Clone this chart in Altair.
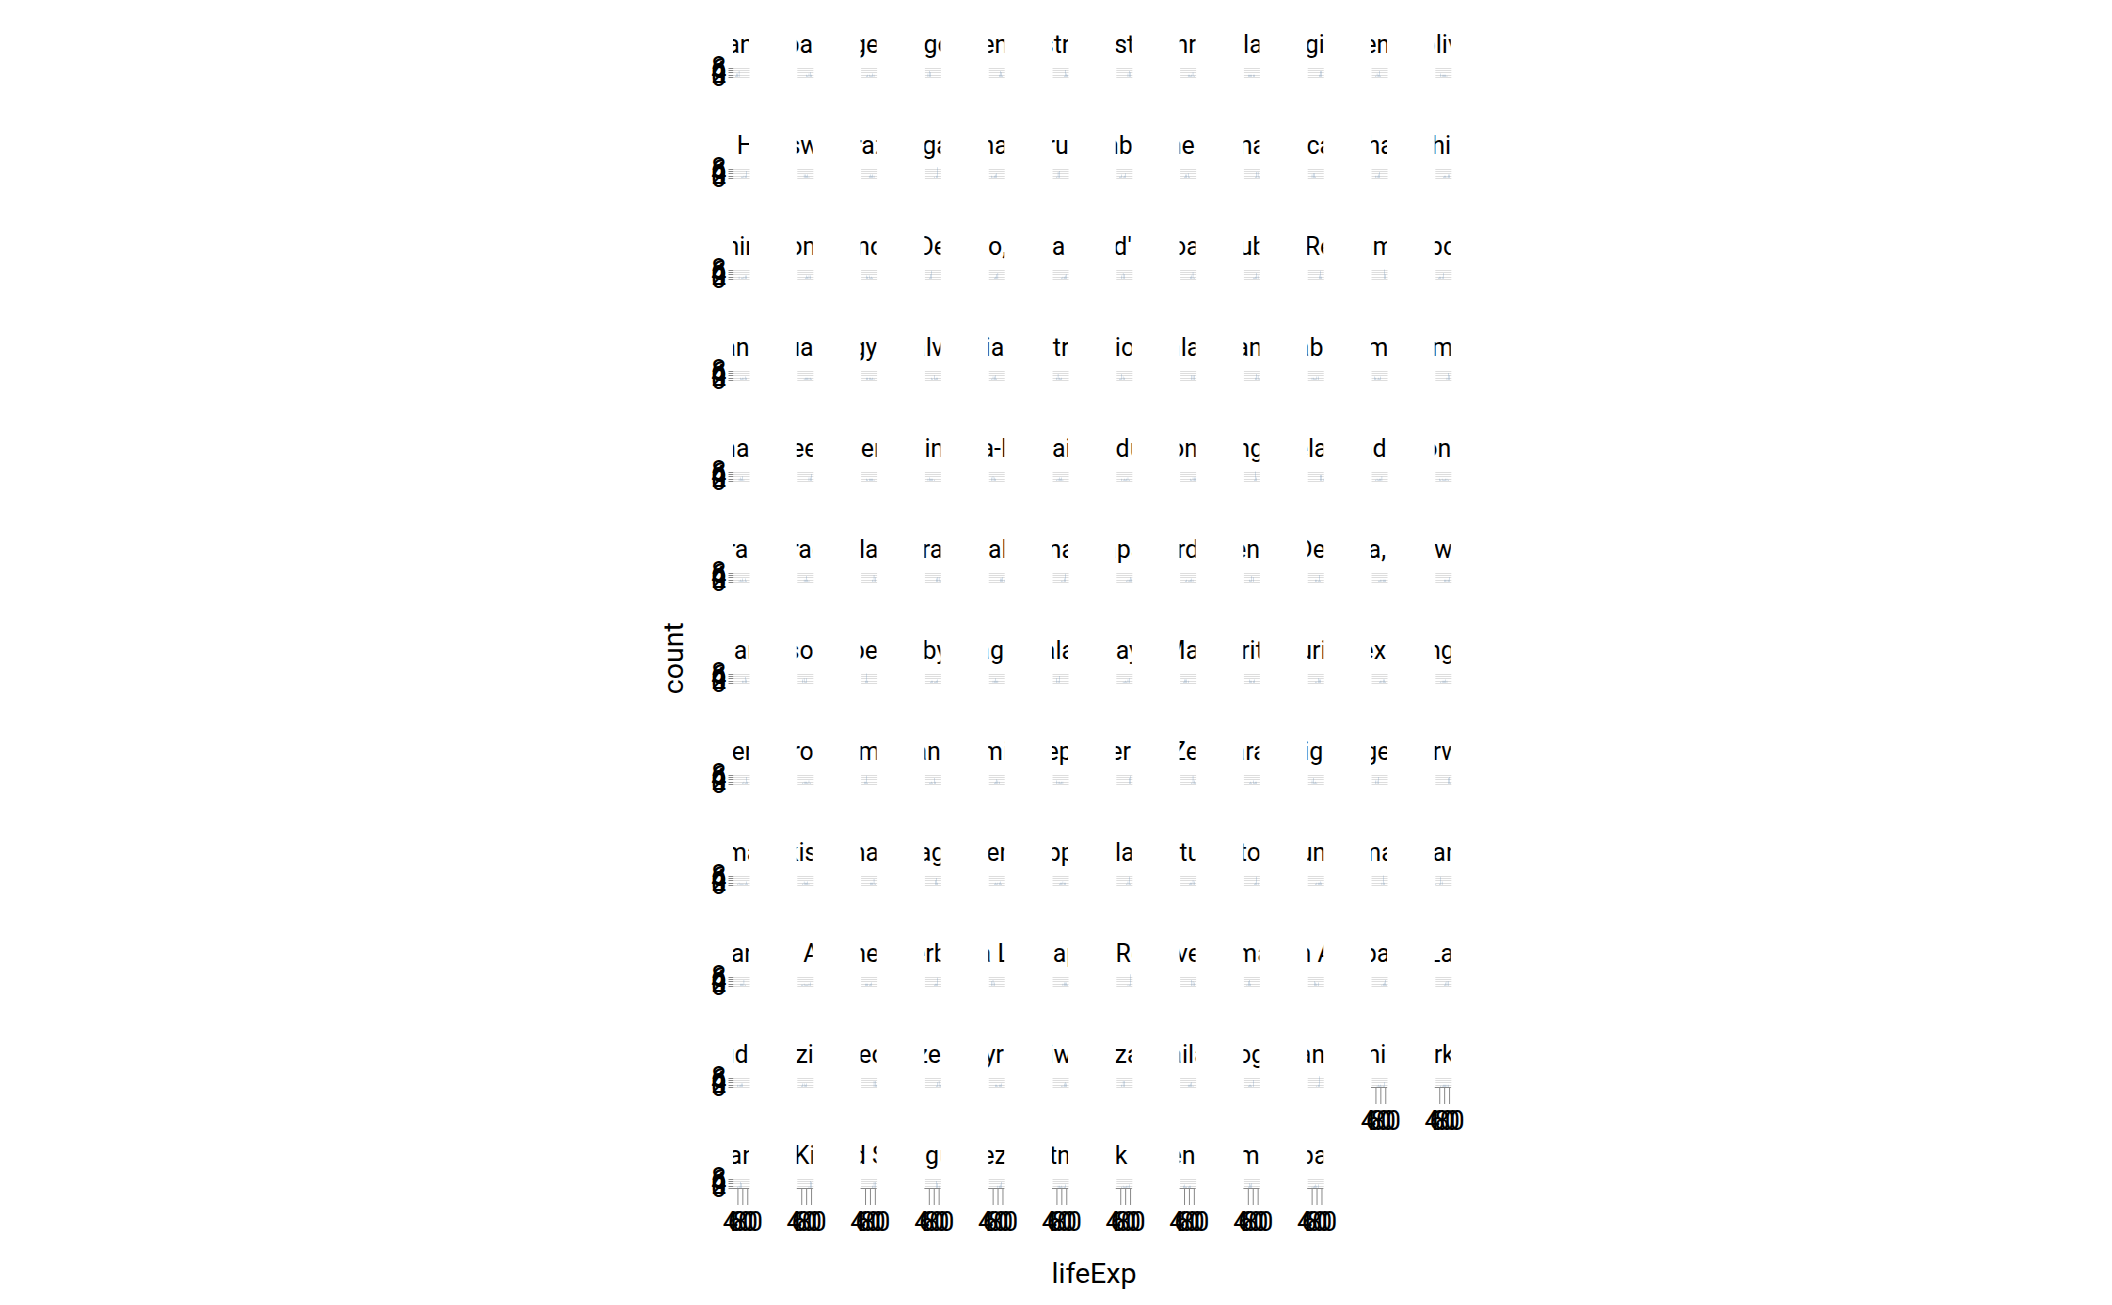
import altair as alt
import pandas as pd

countries = [
    "Afghanistan", "Albania", "Algeria", "Angola", "Argentina", "Australia", "Austria", "Bahrain",
    "Bangladesh", "Belgium", "Benin", "Bolivia", "Bosnia and Herzegovina", "Botswana", "Brazil",
    "Bulgaria", "Burkina Faso", "Burundi", "Cambodia", "Cameroon", "Canada",
    "Central African Republic", "Chad", "Chile", "China", "Colombia", "Comoros", "Congo, Dem. Rep.",
    "Congo, Rep.", "Costa Rica", "Cote d'Ivoire", "Croatia", "Cuba", "Czech Republic", "Denmark",
    "Djibouti", "Dominican Republic", "Ecuador", "Egypt", "El Salvador", "Equatorial Guinea",
    "Eritrea", "Ethiopia", "Finland", "France", "Gabon", "Gambia", "Germany", "Ghana", "Greece",
    "Guatemala", "Guinea", "Guinea-Bissau", "Haiti", "Honduras", "Hong Kong, China", "Hungary",
    "Iceland", "India", "Indonesia", "Iran", "Iraq", "Ireland", "Israel", "Italy", "Jamaica", "Japan",
    "Jordan", "Kenya", "Korea, Dem. Rep.", "Korea, Rep.", "Kuwait", "Lebanon", "Lesotho", "Liberia",
    "Libya", "Madagascar", "Malawi", "Malaysia", "Mali", "Mauritania", "Mauritius", "Mexico",
    "Mongolia", "Montenegro", "Morocco", "Mozambique", "Myanmar", "Namibia", "Nepal", "Netherlands",
    "New Zealand", "Nicaragua", "Niger", "Nigeria", "Norway", "Oman", "Pakistan", "Panama",
    "Paraguay", "Peru", "Philippines", "Poland", "Portugal", "Puerto Rico", "Reunion", "Romania",
    "Rwanda", "Sao Tome and Principe", "Saudi Arabia", "Senegal", "Serbia", "Sierra Leone",
    "Singapore", "Slovak Republic", "Slovenia", "Somalia", "South Africa", "Spain", "Sri Lanka",
    "Sudan", "Swaziland", "Sweden", "Switzerland", "Syria", "Taiwan", "Tanzania", "Thailand", "Togo",
    "Trinidad and Tobago", "Tunisia", "Turkey", "Uganda", "United Kingdom", "United States",
    "Uruguay", "Venezuela", "Vietnam", "West Bank and Gaza", "Yemen, Rep.", "Zambia", "Zimbabwe",
]

# lifeExp histogram: 5-year bins starting at these values
bin_starts = [20, 25, 30, 35, 40, 45, 50, 55, 60, 65, 70, 75, 80]

# count per bin for each country, one (hex) digit per bin, same order as bin_starts
bin_counts = [
    "0133500000000", "0000000213420", "0000122113200", "0035400000000", "0000000025410",
    "0000000001632", "0000000003540", "0000002212410", "0002222220000", "0000000002550",
    "0001325100000", "0000322221000", "0000001122600", "0000033231000", "0000002323200",
    "0000000102900", "0021234000000", "0001560000000", "0011312400000", "0001334100000",
    "0000000001551", "0003441000000", "0002235000000", "0000001221330", "0000201123300",
    "0000001323300", "0000323121000", "0001470000000", "0000124500000", "0000000122340",
    "0000354000000", "0000000023610", "0000000112530", "0000000003720", "0000000000840",
    "0012225000000", "0000021223200", "0000012222210", "0000222212100", "0000021412200",
    "0013341000000", "0002521200000", "0011532000000", "0000000004440", "0000000002541",
    "0002211330000", "0032121300000", "0000000002640", "0000232410000", "0000000003360",
    "0000212222100", "0023222100000", "0034320000000", "0001232310000", "0000212123100",
    "0000000021333", "0000000018300", "0000000000552", "0001212240000", "0002121122100",
    "0000121313100", "0000022521000", "0000000002640", "0000000003441", "0000000003342",
    "0000000113700", "0000000012243", "0000121123200", "0000215400000", "0000002216100",
    "0000011222220", "0000000222240", "0000000225300", "0000341400000", "0002820000000",
    "0000122112300", "0002242200000", "0004260000000", "0000011213400", "0013332000000",
    "0000322230000", "0000001143300", "0000001223310", "0000122232000", "0000000121620",
    "0000122213100", "0022710000000", "0001121520000", "0000124320000", "0003221220000",
    "0000000000570", "0000000001731", "0000121312200", "0003512100000", "0003360000000",
    "0000000000561", "0001211111310", "0000132231000", "0000000222510", "0000000046200",
    "0000121223100", "0000012232200", "0000000013710", "0000000122430", "0000000012720",
    "0000001222320", "0000000028200", "1001730000000", "0000022251000", "0001121112300",
    "0002221230000", "0000000122700", "0045300000000", "0000000023331", "00000000011A0",
    "0000000005430", "0014520000000", "0000043230000", "0000000012351", "0000000134400",
    "0002223300000", "0001332300000", "0000000000552", "0000000001452", "0000022122300",
    "0000000113430", "0000255000000", "0000002234100", "0001221600000", "0000000129000",
    "0000121211400", "0000112222200", "0001254000000", "0000000001650", "0000000002550",
    "0000000006420", "0000000223500", "0000221211300", "0000121122300", "0023111220000",
    "0001434000000", "0001123230000",
]

x_ticks = [40, 60, 80]
y_ticks = [0, 2, 4, 6, 8]
x_domain = [20, 85]

N_COLS = 12
n = len(countries)

rows = []
for i, (country, digits) in enumerate(zip(countries, bin_counts)):
    rows.append({"country": country, "kind": "name"})
    for start, d in zip(bin_starts, digits):
        c = int(d, 16)
        if c > 0:
            rows.append({"country": country, "kind": "bar", "bin_start": start,
                         "bin_end": start + 5, "count": c})
    # last panel of each column carries the lifeExp axis
    if i >= n - N_COLS:
        rows.append({"country": country, "kind": "domain"})
        for t in x_ticks:
            rows.append({"country": country, "kind": "tick", "tick": t})
df = pd.DataFrame(rows)

FONT = "Roboto"
FS_NAME = 25
FS_LABEL = 27
FS_TITLE = 28.5
CELL_W = 16
CELL_H = 48
PX_PER_COUNT = 9.5 / 8        # bar area: 0..8 spans ~9.5 px at the bottom of the cell
Y_MAX = CELL_H / PX_PER_COUNT
TICK_LEN = 17
AXIS_GREY = "#888"

xscale = alt.Scale(domain=x_domain)
base = alt.Chart(df)

bars = base.transform_filter(alt.datum.kind == "bar").mark_bar().encode(
    x=alt.X("bin_start:Q", bin="binned", scale=xscale, axis=None),
    x2="bin_end:Q",
    y=alt.Y("count:Q",
            scale=alt.Scale(domain=[0, Y_MAX], nice=False),
            axis=alt.Axis(title=None, values=y_ticks, domain=False, labelFontSize=FS_LABEL,
                          labelFont=FONT, labelColor="black", labelFlush=False,
                          labelOverlap=False)),
)

names = base.transform_filter(alt.datum.kind == "name").mark_text(
    clip=True, fontSize=FS_NAME, font=FONT, align="center", baseline="alphabetic", color="black"
).encode(
    x=alt.value(CELL_W / 2),
    y=alt.value(24),
    text="country:N",
)

domain_line = base.transform_filter(alt.datum.kind == "domain").mark_rule(
    color=AXIS_GREY, strokeWidth=1
).encode(
    x=alt.value(0), x2=alt.value(CELL_W), y=alt.value(CELL_H + 0.5),
)

ticks = base.transform_filter(alt.datum.kind == "tick").mark_rule(
    color=AXIS_GREY, strokeWidth=1
).encode(
    x=alt.X("tick:Q", scale=xscale, axis=None),
    y=alt.value(CELL_H),
    y2=alt.value(CELL_H + TICK_LEN),
)

tick_labels = base.transform_filter(alt.datum.kind == "tick").mark_text(
    fontSize=FS_LABEL, font=FONT, align="center", baseline="top", color="black"
).encode(
    x=alt.X("tick:Q", scale=xscale, axis=None),
    y=alt.value(CELL_H + TICK_LEN + 5),
    text="tick:Q",
)

chart = (
    alt.layer(bars, names, domain_line, ticks, tick_labels)
    .properties(width=CELL_W, height=CELL_H)
    .facet(
        facet=alt.Facet("country:N", title="lifeExp",
                        header=alt.Header(labelExpr="''", labelFontSize=1, labelPadding=0,
                                          titleOrient="bottom", titlePadding=72,
                                          titleFontSize=FS_TITLE, titleFont=FONT,
                                          titleFontWeight="normal", titleColor="black")),
        columns=N_COLS,
        spacing={"row": 53, "column": 47.8},
        bounds="flush",
        title=alt.TitleParams("count", orient="left", anchor="middle", fontSize=FS_TITLE,
                              font=FONT, fontWeight="normal", color="black", offset=22),
    )
    .properties(padding={"left": 660, "top": 28, "right": 5, "bottom": 5})
    .configure_view(stroke=None)
)

chart.save("out.html", embed_options={"renderer": "svg", "actions": False})
